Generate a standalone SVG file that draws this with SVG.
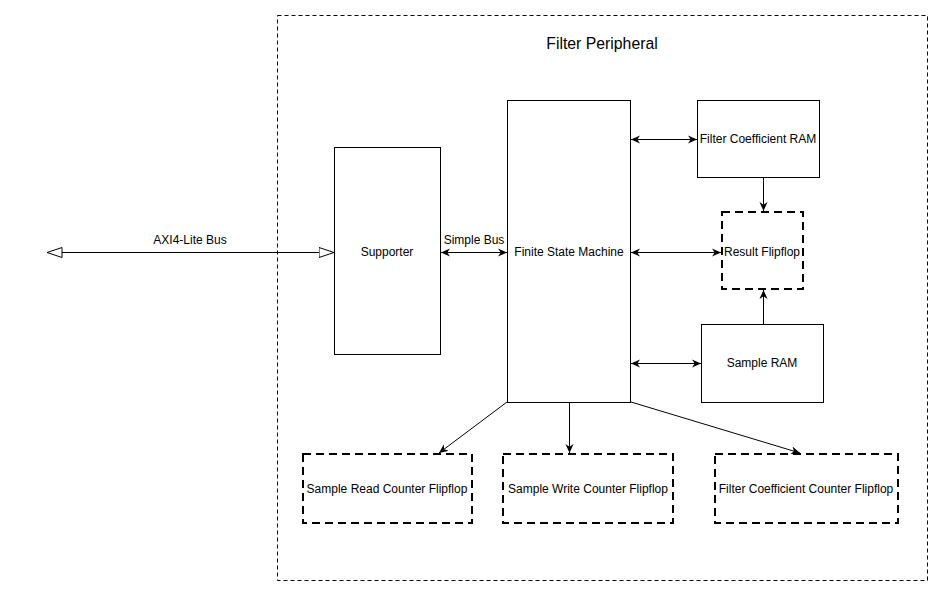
<svg xmlns="http://www.w3.org/2000/svg" width="943" height="596" viewBox="0 0 943 596">
<style>
text{font-family:"Liberation Sans",Arial,sans-serif;font-size:12px;fill:#000;text-anchor:middle;dominant-baseline:central}
.box{fill:#fff;stroke:#000;stroke-width:1}
.ff{fill:#fff;stroke:#000;stroke-width:2;stroke-dasharray:8 5}
.frame{fill:#fff;stroke:#000;stroke-width:1;stroke-dasharray:4 3}
.c{fill:none;stroke:#000;stroke-width:1}
</style>
<defs>
<marker id="cl" viewBox="0 0 10 10" refX="10" refY="5" markerWidth="9" markerHeight="9" markerUnits="userSpaceOnUse" orient="auto-start-reverse">
<path d="M0,0.5 L10,5 L0,9.5 L3,5 z" fill="#000"/>
</marker>
<marker id="ot" viewBox="0 0 16 12" refX="15.5" refY="6" markerWidth="16" markerHeight="12" markerUnits="userSpaceOnUse" orient="auto-start-reverse">
<path d="M0.5,1 L15.5,6 L0.5,11 z" fill="#fff" stroke="#000" stroke-width="1"/>
</marker>
</defs>
<rect width="943" height="596" fill="#fff"/>
<g id="frame">
<rect class="frame" x="277.5" y="15.5" width="650" height="565"/>
<text x="602" y="43" style="font-size:15.8px">Filter Peripheral</text>
</g>
<g id="connectors">
<line class="c" x1="47" y1="252.5" x2="334" y2="252.5" marker-start="url(#ot)" marker-end="url(#ot)"/>
<text x="190" y="240">AXI4-Lite Bus</text>
<line class="c" x1="441" y1="252.5" x2="507" y2="252.5" marker-start="url(#cl)" marker-end="url(#cl)"/>
<text x="474" y="240">Simple Bus</text>
<line class="c" x1="631" y1="139.5" x2="697" y2="139.5" marker-start="url(#cl)" marker-end="url(#cl)"/>
<line class="c" x1="631" y1="252.5" x2="721" y2="252.5" marker-start="url(#cl)" marker-end="url(#cl)"/>
<line class="c" x1="631" y1="363.5" x2="701" y2="363.5" marker-start="url(#cl)" marker-end="url(#cl)"/>
<line class="c" x1="763.5" y1="177" x2="763.5" y2="211" marker-end="url(#cl)"/>
<line class="c" x1="763.5" y1="324" x2="763.5" y2="290" marker-end="url(#cl)"/>
<line class="c" x1="507" y1="402" x2="439" y2="453" marker-end="url(#cl)"/>
<line class="c" x1="569.5" y1="402" x2="569.5" y2="453" marker-end="url(#cl)"/>
<line class="c" x1="631" y1="402" x2="800" y2="453" marker-end="url(#cl)"/>
</g>
<g id="supporter">
<rect class="box" x="334.5" y="147.5" width="106" height="207"/>
<text x="387" y="252">Supporter</text>
</g>
<g id="fsm">
<rect class="box" x="507.5" y="100.5" width="123" height="302"/>
<text x="569" y="252">Finite State Machine</text>
</g>
<g id="fcram">
<rect class="box" x="697.5" y="100.5" width="122" height="77"/>
<text x="758" y="139">Filter Coefficient RAM</text>
</g>
<g id="result">
<rect class="ff" x="722" y="212" width="81" height="77"/>
<text x="762" y="252">Result Flipflop</text>
</g>
<g id="sampleram">
<rect class="box" x="701.5" y="324.5" width="122" height="78"/>
<text x="762" y="363">Sample RAM</text>
</g>
<g id="srcff">
<rect class="ff" x="303" y="454" width="169" height="69"/>
<text x="387" y="489">Sample Read Counter Flipflop</text>
</g>
<g id="swcff">
<rect class="ff" x="503" y="454" width="170" height="69"/>
<text x="588" y="489">Sample Write Counter Flipflop</text>
</g>
<g id="fccff">
<rect class="ff" x="715" y="454" width="183" height="69"/>
<text x="806" y="489">Filter Coefficient Counter Flipflop</text>
</g>
</svg>
